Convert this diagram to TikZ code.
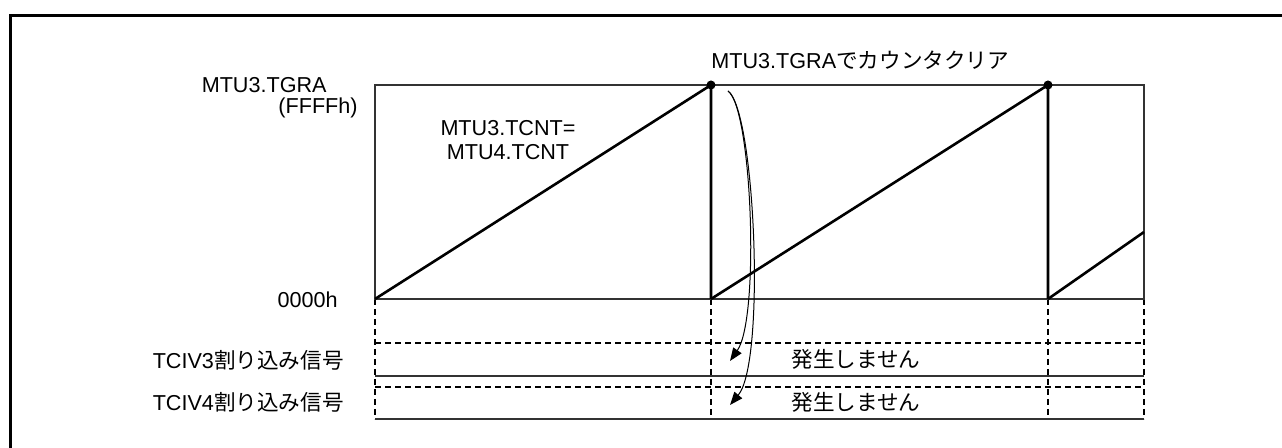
\documentclass[tikz,border=0pt]{standalone}
\usepackage{fontspec}
\setmainfont{Liberation Sans}
\newfontfamily\jp{Noto Sans CJK JP}
\usetikzlibrary{arrows.meta}
\begin{document}
\begin{tikzpicture}[x=0.5pt,y=-0.5pt,
  lbl/.style={inner sep=0pt,font=\fontsize{10.8}{13}\selectfont},
  boxline/.style={line width=0.55pt,draw=black!80},
  ramp/.style={line width=1.3pt,line join=round},
  griddash/.style={line width=0.55pt,dash pattern=on 3pt off 2pt},
  gridsolid/.style={line width=0.55pt,draw=black!80},
  frameline/.style={line width=1.6pt},
  flow/.style={line width=0.5pt,-{Triangle[length=6.5pt,width=5pt]}},
  dotmark/.style={circle,fill=black,inner sep=0pt,minimum size=4.5pt}]
\useasboundingbox (0,0) rectangle (1282,448);
\clip (0,0) rectangle (1282,448);
\fill[white] (0,0) rectangle (1282,448);
% outer frame (top and left edges visible)
\coordinate (fbl) at (10.5,470);
\coordinate (ftl) at (10.5,15.5);
\coordinate (ftr) at (1300,15.5);
\draw[frameline] (fbl) -- (ftl) -- (ftr);
% key points
\coordinate (o1) at (375,299);
\coordinate (t1) at (711,85);
\coordinate (o2) at (711,299);
\coordinate (t2) at (1048,85);
\coordinate (o3) at (1048,299);
\coordinate (e3) at (1144,232);
\coordinate (btl) at (375,85);
\coordinate (bbr) at (1144,299);
% grid below
\foreach \x in {375,711,1048,1144}{
  \draw[griddash] (\x,299) -- (\x,419);
}
\coordinate (r1l) at (375,343);  \coordinate (r1r) at (1144,343);
\coordinate (r2l) at (375,376);  \coordinate (r2r) at (1144,376);
\coordinate (r3l) at (375,387);  \coordinate (r3r) at (1144,387);
\coordinate (r4l) at (375,419);  \coordinate (r4r) at (1144,419);
\draw[griddash] (r1l) -- (r1r);
\draw[gridsolid] (r2l) -- (r2r);
\draw[griddash] (r3l) -- (r3r);
\draw[gridsolid] (r4l) -- (r4r);
% counter box
\draw[boxline] (btl) rectangle (bbr);
% sawtooth
\draw[ramp] (o1) -- (t1) -- (o2);
\draw[ramp] (o2) -- (t2) -- (o3);
\draw[ramp] (o3) -- (e3);
\node[dotmark] (d1) at (t1) {};
\node[dotmark] (d2) at (t2) {};
% labels
\node[lbl,anchor=base east] (tgra) at (327,93) {MTU3.TGRA};
\node[lbl,anchor=base east] (ffff) at (358,114) {(FFFFh)};
\node[lbl,anchor=base east] (zero) at (338,308) {0000h};
\node[lbl,anchor=base east] (tciv3) at (344,369) {TCIV3{\jp 割り込み信号}};
\node[lbl,anchor=base east] (tciv4) at (344,411) {TCIV4{\jp 割り込み信号}};
\node[lbl,anchor=base] (tcnt3) at (508,136) {MTU3.TCNT=};
\node[lbl,anchor=base] (tcnt4) at (508,160) {MTU4.TCNT};
\node[lbl,anchor=base west] (clr) at (711,69) {MTU3.TGRA{\jp でカウンタクリア}};
\node[lbl] (no3) at (856,359) {\jp 発生しません};
\node[lbl] (no4) at (856,402) {\jp 発生しません};
% curved arrows
\coordinate (cs) at (728,91);
\coordinate (ce1) at (730,361);
\coordinate (ce2) at (730,405);
\draw[flow] (cs) .. controls (752,108) and (760,318) .. (ce1);
\draw[flow] (cs) .. controls (755,110) and (766,362) .. (ce2);
\end{tikzpicture}
\end{document}
